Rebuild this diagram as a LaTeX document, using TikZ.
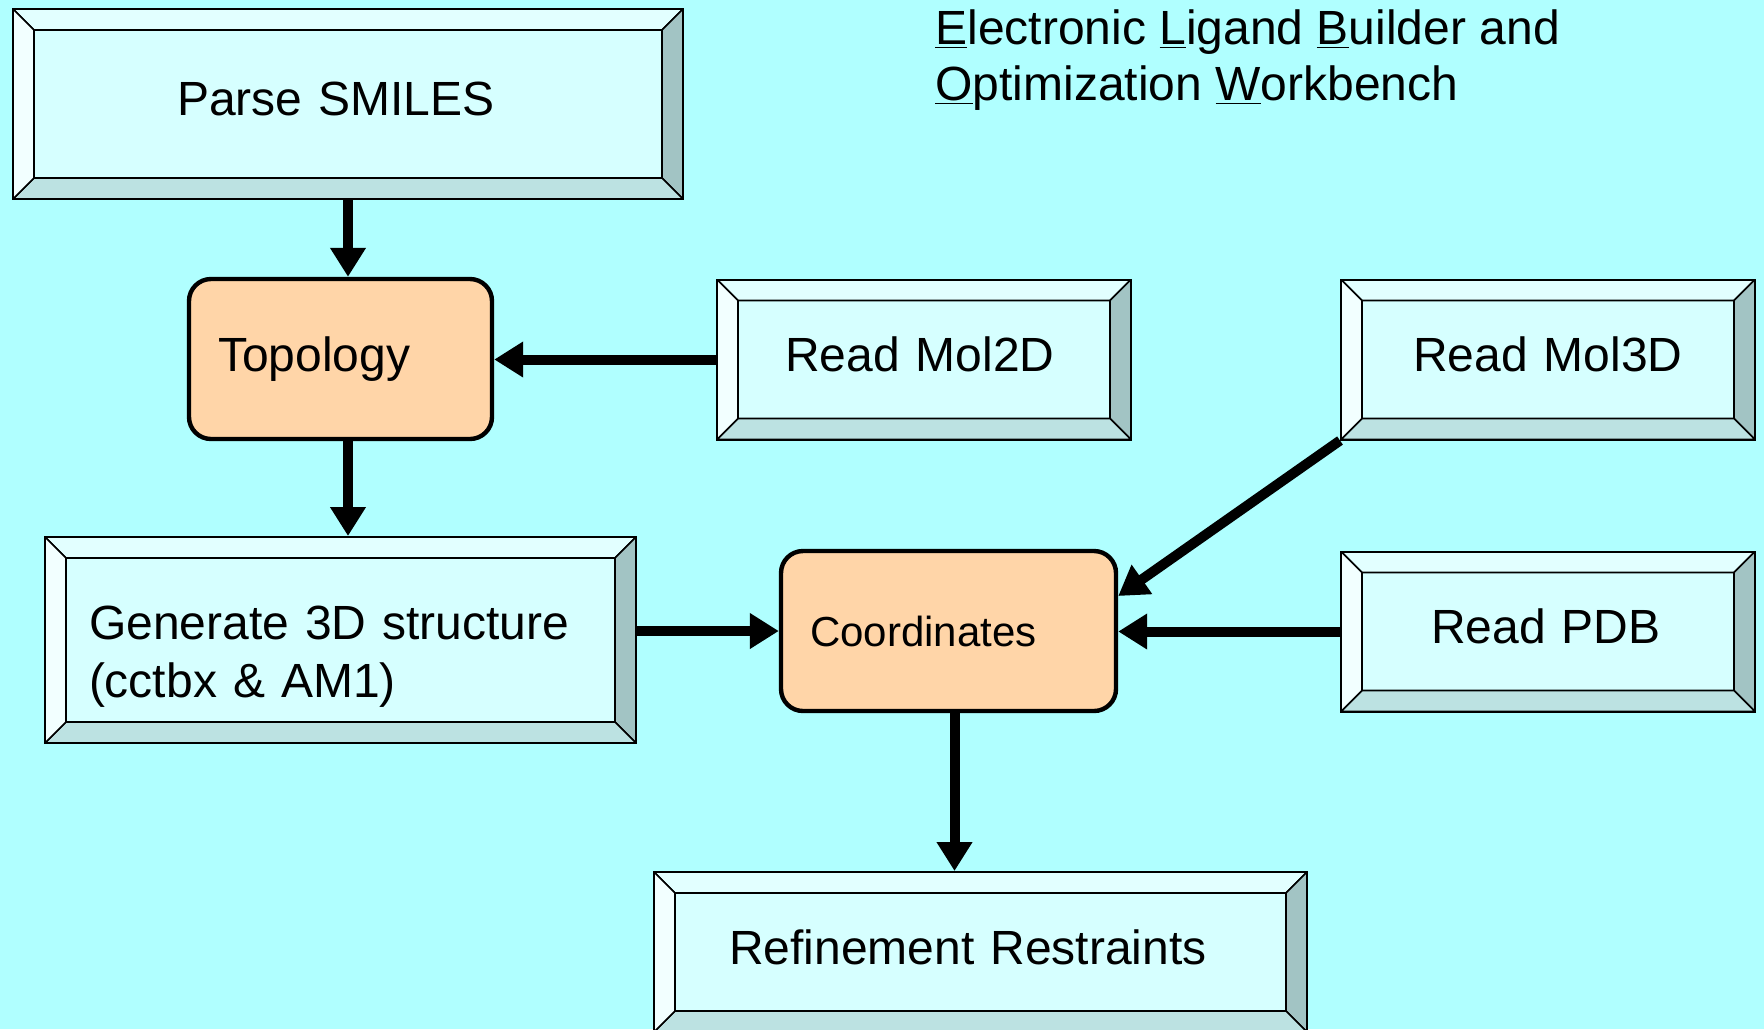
\documentclass[tikz,border=0pt]{standalone}
\usepackage{fontspec}
\setmainfont{Liberation Sans}
\usetikzlibrary{arrows.meta}

\definecolor{slidebg}{RGB}{176,255,255}
\definecolor{panelface}{RGB}{214,255,255}
\definecolor{paneltop}{RGB}{226,255,255}
\definecolor{panelleft}{RGB}{242,255,255}
\definecolor{panelright}{RGB}{162,196,196}
\definecolor{panelbottom}{RGB}{188,226,226}
\definecolor{stagefill}{RGB}{255,213,168}

\tikzset{
  % bevelled input/output boxes
  panel/.style={draw=black, line width=1pt, fill=panelface, align=left,
    minimum height=80pt, inner ysep=0pt, text depth=5pt,
    path picture={
      \coordinate (nw) at (path picture bounding box.north west);
      \coordinate (ne) at (path picture bounding box.north east);
      \coordinate (se) at (path picture bounding box.south east);
      \coordinate (sw) at (path picture bounding box.south west);
      \filldraw[line width=0.8pt, fill=paneltop] (nw) -- (ne) -- ([shift={(-10.5pt,-10.5pt)}]ne) -- ([shift={(10.5pt,-10.5pt)}]nw) -- cycle;
      \filldraw[line width=0.8pt, fill=panelright] (ne) -- (se) -- ([shift={(-10.5pt,10.5pt)}]se) -- ([shift={(-10.5pt,-10.5pt)}]ne) -- cycle;
      \filldraw[line width=0.8pt, fill=panelbottom] (se) -- (sw) -- ([shift={(10.5pt,10.5pt)}]sw) -- ([shift={(-10.5pt,10.5pt)}]se) -- cycle;
      \filldraw[line width=0.8pt, fill=panelleft] (sw) -- (nw) -- ([shift={(10.5pt,-10.5pt)}]nw) -- ([shift={(10.5pt,10.5pt)}]sw) -- cycle;
    }},
  % rounded data stages
  stage/.style={draw=black, line width=2.2pt, rounded corners=11pt, fill=stagefill,
    align=left, minimum height=80pt, inner ysep=0pt},
  flow/.style={line width=5pt, -{Triangle[length=14.5pt,width=17pt]}},
}

\begin{document}
\begin{tikzpicture}[x=0.5pt, y=-0.5pt, font=\fontsize{24}{29}\selectfont]
    % background
    \useasboundingbox (0,0) rectangle (1764,1029);
    \fill[slidebg] (0,0) rectangle (1764,1029);

    % title
    \node[anchor=north west, align=left, inner sep=0pt, font=\fontsize{24}{28}\selectfont] (title) at (935,9)
      {\underline{E}lectronic \underline{L}igand \underline{B}uilder and\\
       \underline{O}ptimization \underline{W}orkbench};

    % left column
    \node[panel, minimum height=95pt, text width=171pt, inner xsep=82pt] (parse) at (348,104) {Parse SMILES};
    \node[stage, text width=122.5pt, inner xsep=14.5pt] (topo) at (340.5,359) {Topology};
    \node[panel, minimum height=103pt, text width=251.5pt, inner xsep=22pt, text height=33pt, text depth=34pt] (gen) at (340.5,640)
      {Generate 3D structure\\(cctbx \& AM1)};

    % readers
    \node[panel, text width=139pt, inner xsep=34pt] (mol2d) at (924,359.5) {Read Mol2D};
    \node[panel, text width=135pt, inner xsep=36pt] (mol3d) at (1548,359.5) {Read Mol3D};
    \node[panel, text width=117pt, inner xsep=45pt] (pdb) at (1548,631.5) {Read PDB};

    % coordinates and output
    \node[stage, text width=138.5pt, inner xsep=14.5pt, font=\fontsize{21}{25}\selectfont] (coord) at (948.5,631) {Coordinates};
    \node[panel, text width=251.5pt, inner xsep=37.5pt] (refine) at (980.5,952) {Refinement Restraints};

    % arrows
    \draw[flow] (parse.south) -- (parse.south |- topo.north);
    \draw[flow] (mol2d.west) -- (topo.east |- mol2d.west);
    \draw[flow] (topo.south -| parse.south) -- (gen.north -| parse.south);
    \draw[flow] (gen.east |- coord.west) -- (coord.west);
    \draw[flow] (mol3d.south west) -- ([yshift=17.5pt]coord.east);
    \draw[flow] (pdb.west) -- (coord.east |- pdb.west);
    \draw[flow] ([xshift=3pt]coord.south) -- ([xshift=3pt]coord.south |- refine.north);
\end{tikzpicture}
\end{document}
